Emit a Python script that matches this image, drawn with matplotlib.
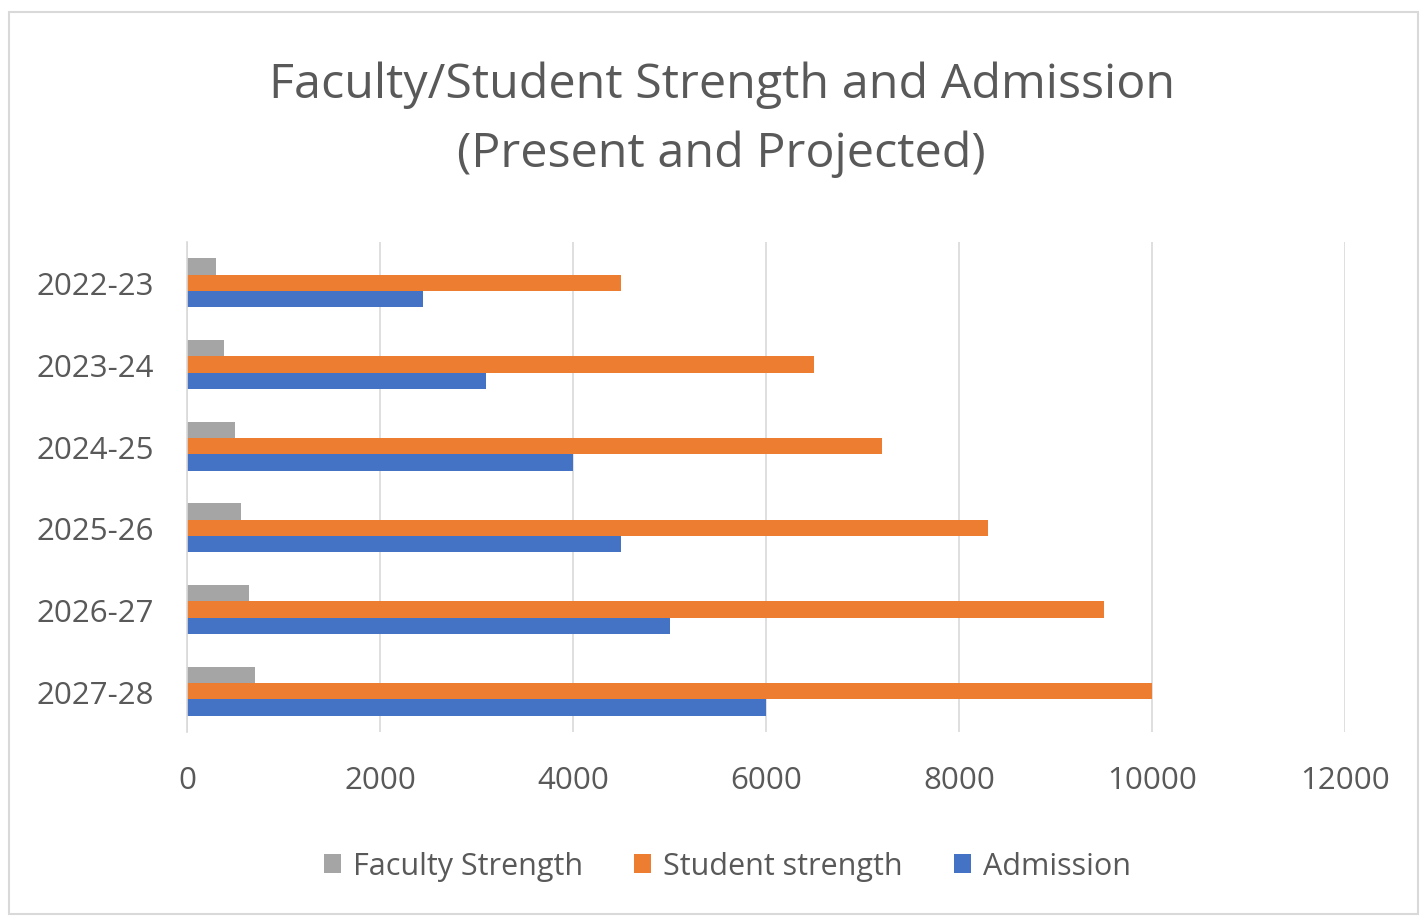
import matplotlib.pyplot as plt
import numpy as np
from matplotlib.patches import Rectangle

years = ['2022-23', '2023-24', '2024-25', '2025-26', '2026-27', '2027-28']
faculty = [300, 380, 500, 560, 640, 700]
students = [4500, 6500, 7200, 8300, 9500, 10000]
admission = [2450, 3100, 4000, 4500, 5000, 6000]

plt.rcParams['font.family'] = ['Open Sans', 'DejaVu Sans']
text_col = '#595959'

fig = plt.figure(figsize=(14.21, 9.2), dpi=100)
fig.patches.append(Rectangle((9 / 1421, 5 / 920), 1409 / 1421, 902 / 920,
                             transform=fig.transFigure, fill=False,
                             edgecolor='#d9d9d9', linewidth=1.5))

ax = fig.add_axes([187 / 1421, 1 - 733 / 920, 1158 / 1421, 490 / 920])

y = np.arange(len(years))
h = 0.2
ax.barh(y - h, faculty, height=h, color='#A5A5A5', label='Faculty Strength')
ax.barh(y, students, height=h, color='#ED7D31', label='Student strength')
ax.barh(y + h, admission, height=h, color='#4472C4', label='Admission')

ax.set_xlim(0, 12000)
ax.set_ylim(len(years) - 0.5, -0.5)
ax.set_yticks(y)
ax.set_yticklabels(years)
ax.set_xticks(range(0, 12001, 2000))
ax.tick_params(axis='both', length=0, labelsize=22.5, colors=text_col)
ax.tick_params(axis='x', pad=24)
ax.tick_params(axis='y', pad=24)
ax.grid(axis='x', color='#d9d9d9', linewidth=1.2)
ax.set_axisbelow(True)
for s in ['top', 'right', 'bottom']:
    ax.spines[s].set_visible(False)
ax.spines['left'].set_color('#d9d9d9')
ax.spines['left'].set_linewidth(1.2)

fig.text(0.508, 1 - 120 / 920,
         'Faculty/Student Strength and Admission\n(Present and Projected)',
         ha='center', va='center', fontsize=34.8, color=text_col, linespacing=1.6)

handles, labels = ax.get_legend_handles_labels()
fig.legend(handles, labels, loc='center', bbox_to_anchor=(0.512, 1 - 867 / 920),
           ncol=3, frameon=False, fontsize=22, labelcolor=text_col,
           handlelength=0.56, handleheight=0.56, handletextpad=0.4,
           columnspacing=1.67)

fig.savefig('out.png', dpi=100)
